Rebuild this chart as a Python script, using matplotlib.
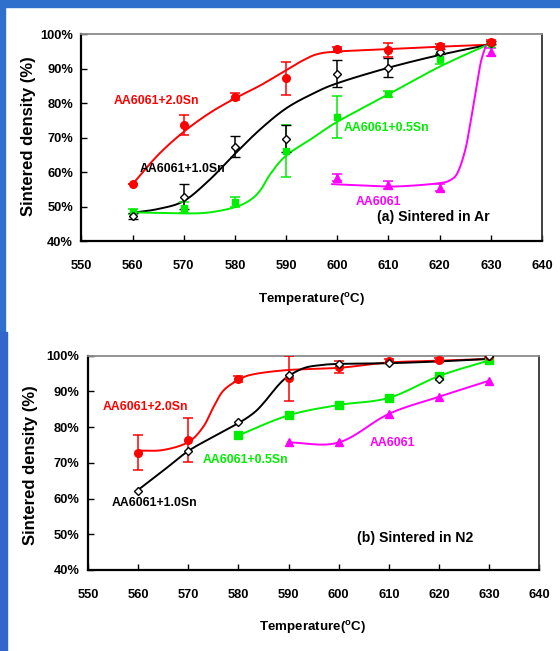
import numpy as np
import matplotlib
matplotlib.use("Agg")
import matplotlib.pyplot as plt
from matplotlib.patches import Rectangle
from matplotlib import font_manager

names = {f.name for f in font_manager.fontManager.ttflist}
NARROW = ['Liberation Sans Narrow', 'Liberation Sans', 'DejaVu Sans'] if 'Liberation Sans Narrow' in names else ['Liberation Sans', 'DejaVu Sans']
WIDE = ['Liberation Sans', 'DejaVu Sans']
plt.rcParams['font.family'] = NARROW
plt.rcParams['mathtext.fontset'] = 'custom'
plt.rcParams['mathtext.rm'] = NARROW[0] + ':bold'
plt.rcParams['mathtext.bf'] = NARROW[0] + ':bold'
IS_NARROW = NARROW[0] == 'Liberation Sans Narrow'
K = 1.0 if IS_NARROW else 0.88  # shrink wide font to keep widths close

# ---------------- data: (a) sintered in Ar ----------------
temps = [560, 570, 580, 590, 600, 610, 620, 630]
ar_sn20 = [56.6, 73.6, 81.9, 87.2, 95.7, 95.4, 96.5, 97.8]
ar_sn20_err = [0, 2.9, 1.0, 4.9, 0.7, 2.0, 0.7, 0.5]
ar_sn10 = [47.3, 52.9, 67.4, 69.7, 88.6, 90.3, 95.0, 97.6]
ar_sn10_err = [0.8, 3.6, 3.0, 4.0, 3.8, 2.7, 0.8, 0.5]
ar_sn05 = [48.5, 49.7, 51.3, 66.1, 76.0, 82.7, 92.9, 97.3]
ar_sn05_err = [0.8, 1.5, 1.5, 7.5, 6.2, 0.8, 1.5, 0.5]
ar_base_t = [600, 610, 620, 630]
ar_base = [58.4, 56.2, 55.5, 94.9]
ar_base_err = [1.0, 1.2, 1.0, 1.2]

# fitted trend curves (knots)
ar_fit20_t = [560, 565, 570, 575, 580, 585, 590, 593, 596, 600, 610, 620, 630]
ar_fit20 = [56.5, 65.0, 71.7, 77.1, 81.4, 85.2, 89.6, 92.2, 94.2, 95.0, 95.7, 96.4, 97.0]
ar_fit10_t = [560, 565, 570, 575, 580, 585, 590, 595, 600, 610, 620, 630]
ar_fit10 = [48.2, 49.3, 51.6, 57.7, 65.3, 72.5, 78.5, 82.6, 85.8, 90.3, 94.0, 97.1]
ar_fit05_t = [560, 570, 575, 580, 583, 585, 587, 590, 595, 600, 610, 620, 630]
ar_fit05 = [48.3, 48.0, 48.3, 49.8, 51.9, 54.8, 59.6, 64.8, 69.7, 74.6, 82.6, 90.6, 97.4]
ar_fitb_t = [599, 605, 610, 615, 620, 622, 623.5, 625, 626, 627, 628, 629]
ar_fitb = [56.5, 56.1, 55.8, 56.1, 56.8, 57.6, 59.8, 66.4, 74.2, 82.9, 91.6, 96.6]

# ---------------- data: (b) sintered in N2 ----------------
n2_sn20 = [72.8, 76.4, 93.5, 93.7, 96.8, 98.5, 98.7, 100.0]
n2_sn20_err = [4.9, 6.2, 0.8, 6.3, 1.6, 0.5, 0.6, 0.3]
n2_sn10 = [62.1, 73.2, 81.4, 94.5, 97.7, 97.9, 93.6, 100.0]
n2_sn05_t = [580, 590, 600, 610, 620, 630]
n2_sn05 = [77.7, 83.3, 86.2, 88.2, 94.3, 98.7]
n2_base_t = [590, 600, 610, 620, 630]
n2_base = [75.7, 75.7, 83.7, 88.5, 93.0]

n2_fit20_t = [560, 565, 570, 573, 575, 577, 580, 583, 590, 600, 610, 620, 630]
n2_fit20 = [73.4, 73.6, 75.8, 80.1, 85.5, 90.2, 93.2, 94.8, 96.0, 96.6, 98.1, 98.6, 99.1]
n2_fit10_t = [560, 565, 570, 575, 580, 583, 585, 588, 590, 593, 596, 600, 610, 620, 630]
n2_fit10 = [62.4, 67.8, 73.3, 77.3, 81.1, 83.9, 86.7, 91.8, 94.3, 96.5, 97.3, 97.7, 97.9, 98.4, 99.1]

RED, BLACK, GREEN, MAG = '#ff0000', '#000000', '#00ee00', '#ff00ff'
BLUE = '#2f70cc'


def smooth(xs, ys, n=24):
    """Catmull-Rom spline through knots (Excel-like smoothed line)."""
    P = np.column_stack([xs, ys]).astype(float)
    P = np.vstack([2 * P[0] - P[1], P, 2 * P[-1] - P[-2]])
    out = []
    t = np.linspace(0, 1, n, endpoint=False)[:, None]
    for i in range(1, len(P) - 2):
        p0, p1, p2, p3 = P[i - 1], P[i], P[i + 1], P[i + 2]
        seg = 0.5 * ((2 * p1) + (-p0 + p2) * t + (2 * p0 - 5 * p1 + 4 * p2 - p3) * t ** 2
                     + (-p0 + 3 * p1 - 3 * p2 + p3) * t ** 3)
        out.append(seg)
    out.append(P[-2][None, :])
    S = np.vstack(out)
    return S[:, 0], S[:, 1]


def style_axes(ax):
    ax.set_xlim(550, 640)
    ax.set_ylim(40, 100)
    ax.set_xticks(np.arange(550, 641, 10))
    ax.set_yticks(np.arange(40, 101, 10))
    ax.set_yticklabels([f'{v}%' for v in range(40, 101, 10)])
    ax.tick_params(axis='x', direction='in', length=4, width=1, pad=14, labelsize=10.5 * K)
    ax.tick_params(axis='y', direction='in', length=4, width=1, pad=6, labelsize=10.5 * K)
    for lab in ax.get_xticklabels() + ax.get_yticklabels():
        lab.set_fontweight('bold')
        lab.set_family(NARROW)
    for s in ['left', 'bottom']:
        ax.spines[s].set_linewidth(1.6)
        ax.spines[s].set_color('black')
    ax.spines['top'].set_color('#8a8a8a')
    ax.spines['top'].set_linewidth(1.3)
    ax.spines['right'].set_color('#333333')
    ax.spines['right'].set_linewidth(1.3)


fig = plt.figure(figsize=(5.6, 6.51), dpi=100)
W, H = 560.0, 651.0

# blue frame strips
fig.add_artist(Rectangle((0, 1 - 7 / H), 1, 7 / H, transform=fig.transFigure, color=BLUE, zorder=0))
fig.add_artist(Rectangle((0, (H - 332) / H), 5 / W, 332 / H, transform=fig.transFigure, color=BLUE, zorder=0))
fig.add_artist(Rectangle((0, 0), 6.5 / W, (H - 332) / H, transform=fig.transFigure, color='#3366cc', zorder=0))

# ---------------- panel (a) ----------------
axa = fig.add_axes([81.4 / W, (H - 241) / H, (542 - 81.4) / W, (241 - 34.3) / H])
style_axes(axa)
lw = 1.4
for (ft, fy, c) in [(ar_fit20_t, ar_fit20, RED), (ar_fit10_t, ar_fit10, BLACK),
                    (ar_fit05_t, ar_fit05, GREEN), (ar_fitb_t, ar_fitb, MAG)]:
    sx, sy = smooth(ft, fy)
    axa.plot(sx, sy, color=c, lw=lw, zorder=2)

ek = dict(capsize=3.5, elinewidth=1.1, capthick=1.1, linestyle='none', zorder=3)
axa.errorbar(ar_base_t, ar_base, yerr=ar_base_err, color=MAG, marker='^', ms=5.5, **ek)
axa.errorbar(temps, ar_sn05, yerr=ar_sn05_err, color=GREEN, marker='s', ms=5, **ek)
axa.errorbar(temps, ar_sn10, yerr=ar_sn10_err, color=BLACK, marker='D', ms=4.5,
             mfc='white', mec=BLACK, mew=1.0, **ek)
axa.errorbar(temps, ar_sn20, yerr=ar_sn20_err, color=RED, marker='o', ms=5.5, **ek)

tk = dict(fontweight='bold', family=NARROW, fontsize=10 * K, va='center', ha='left')
axa.text(556.4, 80.5, 'AA6061+2.0Sn', color=RED, **tk)
axa.text(561.3, 60.8, 'AA6061+1.0Sn', color=BLACK, **tk)
axa.text(601.2, 72.7, 'AA6061+0.5Sn', color=GREEN, **tk)
axa.text(603.5, 51.2, 'AA6061', color=MAG, **tk)
axa.text(607.8, 47.1, '(a) Sintered in Ar', color=BLACK, fontweight='bold', family=NARROW,
         fontsize=11.5 * K, va='center', ha='left')

# ---------------- panel (b) ----------------
axb = fig.add_axes([87.9 / W, (H - 570) / H, (539.3 - 87.9) / W, (570 - 355.7) / H])
style_axes(axb)
for (ft, fy, c) in [(n2_fit20_t, n2_fit20, RED), (n2_fit10_t, n2_fit10, BLACK),
                    (n2_sn05_t, n2_sn05, GREEN), (n2_base_t, n2_base, MAG)]:
    sx, sy = smooth(ft, fy)
    axb.plot(sx, sy, color=c, lw=lw, zorder=2)

axb.plot(n2_base_t, n2_base, color=MAG, marker='^', ms=6, linestyle='none', zorder=3)
axb.plot(n2_sn05_t, n2_sn05, color=GREEN, marker='s', ms=5.5, linestyle='none', zorder=3)
axb.errorbar(temps, n2_sn20, yerr=n2_sn20_err, color=RED, marker='o', ms=5.5, **ek)
axb.plot(temps, n2_sn10, color=BLACK, marker='D', ms=4.5, mfc='white', mec=BLACK, mew=1.0,
         linestyle='none', zorder=4)

axb.text(553.0, 85.5, 'AA6061+2.0Sn', color=RED, **tk)
axb.text(554.8, 58.8, 'AA6061+1.0Sn', color=BLACK, **tk)
axb.text(572.9, 70.7, 'AA6061+0.5Sn', color=GREEN, **tk)
axb.text(606.2, 75.6, 'AA6061', color=MAG, **tk)
axb.text(603.7, 49.0, '(b) Sintered in N2', color=BLACK, fontweight='bold', family=NARROW,
         fontsize=11.5 * K, va='center', ha='left')

# axis titles
for (cx, cy) in [(311.8, 300), (312.5, 627)]:
    fig.text(cx / W, 1 - cy / H, r'Temperature($^{\mathrm{o}}$C)', ha='center', va='center',
             fontsize=11 * K, fontweight='bold', family=NARROW)
fig.text(29 / W, 1 - 136 / H, 'Sintered density (%)', rotation=90, ha='center', va='center',
         fontsize=12, fontweight='bold', family=WIDE)
fig.text(31 / W, 1 - 465 / H, 'Sintered density (%)', rotation=90, ha='center', va='center',
         fontsize=12, fontweight='bold', family=WIDE)

fig.savefig('out.png', dpi=100)
